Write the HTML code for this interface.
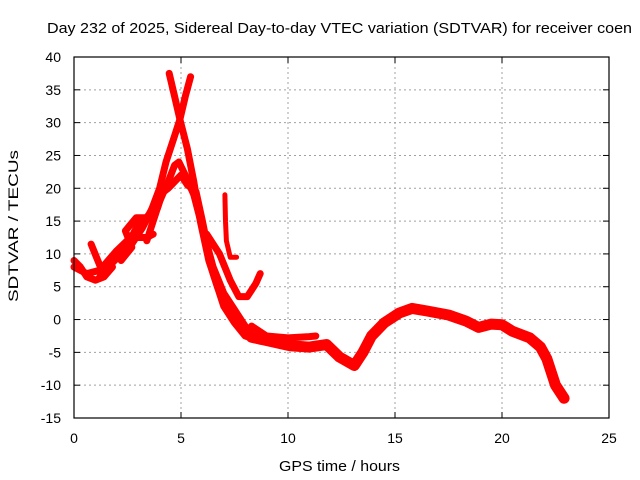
<!DOCTYPE html>
<html><head><meta charset="utf-8"><style>
html,body{margin:0;padding:0;background:#fff;}
svg{display:block;font-family:"Liberation Sans",sans-serif;}
</style></head><body>
<svg id="chart" width="640" height="480" viewBox="0 0 640 480">
<rect width="640" height="480" fill="#fff"/>
<text x="47" y="33" font-size="15" textLength="585" lengthAdjust="spacingAndGlyphs">Day 232 of 2025, Sidereal Day-to-day VTEC variation (SDTVAR) for receiver coen</text>
<text transform="translate(18,226) rotate(-90)" text-anchor="middle" font-size="14" textLength="152" lengthAdjust="spacingAndGlyphs">SDTVAR / TECUs</text>
<text x="279" y="471" font-size="15" textLength="121" lengthAdjust="spacingAndGlyphs">GPS time / hours</text>
<g id="grid"></g><g id="ticks"></g><g id="series"></g>
<rect x="74" y="57" width="535" height="361" fill="none" stroke="#000" stroke-width="1.2"/>
</svg>
<script>
const xTicks=[0,5,10,15,20,25];
const yTicks=[40,35,30,25,20,15,10,5,0,-5,-10,-15];
const arcRise=[[2.6,11],[3.2,14],[3.6,16.5],[4.0,20],[4.3,24],[4.7,28],[4.95,30.5],[5.2,34],[5.45,37]];
const arcFall=[[4.45,37.5],[4.7,34],[4.95,30.5],[5.3,26],[5.6,21],[5.9,15],[6.3,9],[6.7,5],[7.1,2],[7.6,-0.5],[8.2,-2.3],[9,-3]];
const arcMid=[[3.4,12],[3.7,15],[4.0,18],[4.4,21],[4.7,23.5],[4.9,24],[5.2,22],[5.6,19],[6,14],[6.5,8],[7,4],[7.5,1.5],[8,-1],[8.5,-3],[9.3,-3.5]];
const arcLow=[[0,8],[0.6,7],[1.2,7.5],[2,10.5],[2.8,13],[3.5,16],[4.0,19],[4.4,20],[4.7,21],[5,22],[5.3,20.5],[5.7,19.5],[6,15],[6.5,7],[7,2],[7.5,-0.5],[8,-2.5],[8.7,-3.3],[9.5,-3]];
const arcShort=[[6.2,13],[6.8,10],[7.3,6],[7.7,3.5],[8.1,3.5],[8.5,5.5],[8.7,7]];
const arcSpike=[[7.05,19],[7.08,15],[7.12,12],[7.3,9.5],[7.6,9.5]];
const arcLeftA=[[0,9],[0.3,8],[0.6,6.5],[1,6],[1.4,6.5],[1.8,8]];
const arcLeftB=[[0.8,11.5],[1.3,7.5],[1.8,9],[2.3,11],[2.8,12.5],[3.4,12.5],[3.7,13]];
const arcLeftC=[[1.2,6.5],[1.6,8],[2.2,10],[2.6,12],[3,14.5],[3.5,15.5],[4,19]];
const arcLeftD=[[2.2,9],[2.7,11],[2.4,13.5],[2.9,15.5],[3.4,15.5],[3.9,17],[4.2,20]];
const arcRight=[[8.3,-2.7],[9,-3.2],[10.1,-4],[11,-4.2],[11.8,-3.8],[12.4,-5.7],[13.1,-7],[13.5,-5],[13.9,-2.5],[14.5,-0.5],[15.2,1],[15.8,1.7],[16.5,1.3],[17.5,0.7],[18.3,-0.2],[18.9,-1.2],[19.5,-0.7],[20,-0.8],[20.5,-1.8],[21.3,-2.8],[21.8,-4.2],[22.1,-6],[22.5,-10],[22.9,-12]];
const arcUpper=[[8.3,-1],[9,-2.5],[10,-2.8],[11,-2.6],[11.3,-2.5]];
const seriesList=[arcRise,arcFall,arcMid,arcLow,arcShort,arcSpike,arcLeftA,arcLeftB,arcLeftC,arcLeftD,arcUpper,arcRight];
const seriesNames=['arc-rise','arc-fall','arc-mid','arc-low','arc-short','arc-spike','arc-left-a','arc-left-b','arc-left-c','arc-left-d','arc-upper','arc-right'];
const X0=74,X1=609,Y0=418,Y1=57;
function xs(t){return X0+(t-0)/(25-0)*(X1-X0);}
function ys(v){return Y0-(v+15)/(40+15)*(Y0-Y1);}
const NS='http://www.w3.org/2000/svg';
const grid=document.getElementById('grid'),ticks=document.getElementById('ticks'),ser=document.getElementById('series');
function mk(tag,attrs,parent){const e=document.createElementNS(NS,tag);for(const k in attrs)e.setAttribute(k,attrs[k]);parent.appendChild(e);return e;}
xTicks.forEach(t=>{
  const x=xs(t);
  if(t>0&&t<25){const g=mk('line',{x1:x,x2:x,y1:Y1,y2:Y0,stroke:'#a0a0a0','stroke-dasharray':'2,3'},grid);
  
  }
  const l=mk('text',{x:x,y:443,'text-anchor':'middle','font-size':'14'},ticks);l.textContent=t;
  
  
  mk('line',{x1:x,x2:x,y1:Y0,y2:Y0-6,stroke:'#000'},ticks);
  mk('line',{x1:x,x2:x,y1:Y1,y2:Y1+6,stroke:'#000'},ticks);
});
yTicks.forEach(v=>{
  const y=ys(v);
  if(v>-15&&v<40){const g=mk('line',{x1:X0,x2:X1,y1:y,y2:y,stroke:'#a0a0a0','stroke-dasharray':'2,3'},grid);
  
  }
  const l=mk('text',{x:61,y:y+5,'text-anchor':'end','font-size':'14'},ticks);l.textContent=v;
  
  
  mk('line',{x1:X0,x2:X0+6,y1:y,y2:y,stroke:'#000'},ticks);
  mk('line',{x1:X1,x2:X1-6,y1:y,y2:y,stroke:'#000'},ticks);
});
seriesList.forEach((s,i)=>{
  const pts=s.map(p=>xs(p[0]).toFixed(1)+','+ys(p[1]).toFixed(1)).join(' ');
  const w=(seriesNames[i]==='arc-right')?11:(seriesNames[i]==='arc-spike'?5:7);
  const pl=mk('polyline',{points:pts,fill:'none',stroke:'#ff0000','stroke-width':w,'stroke-linejoin':'round','stroke-linecap':'round'},ser);
  
  
});
</script>
</body></html>
